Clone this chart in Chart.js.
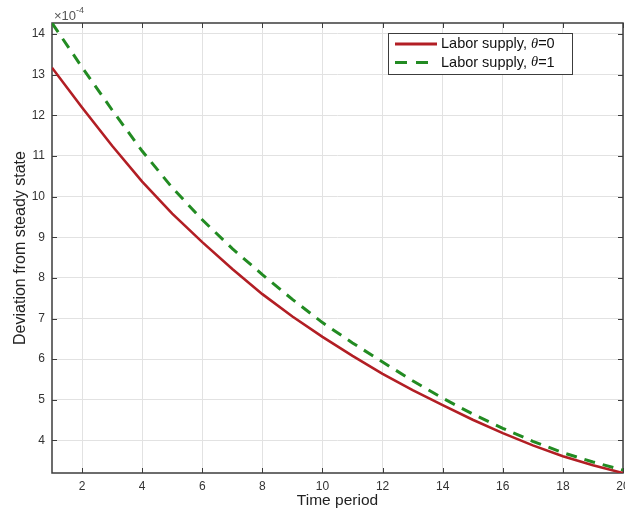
<!DOCTYPE html>
<html>
<head>
<meta charset="utf-8">
<script src="https://cdn.jsdelivr.net/npm/chart.js@4.4.0/dist/chart.umd.min.js"></script>
<style>
  html, body { margin: 0; padding: 0; background: #fff; }
</style>
</head>
<body>
<canvas id="myChart" width="625" height="512"></canvas>
<script>
// periods after the shock
var periods = [1, 2, 3, 4, 5, 6, 7, 8, 9, 10, 11, 12, 13, 14, 15, 16, 17, 18, 19, 20];

// labor supply, deviation from steady state (units of 1e-4)
var laborTheta0 = [13.17, 12.19, 11.25, 10.37, 9.58, 8.88, 8.22, 7.60, 7.05, 6.55,
                   6.08, 5.64, 5.24, 4.87, 4.51, 4.18, 3.88, 3.61, 3.39, 3.20];
var laborTheta1 = [14.27, 13.18, 12.13, 11.12, 10.22, 9.43, 8.72, 8.08, 7.47, 6.90,
                   6.40, 5.93, 5.47, 5.04, 4.65, 4.30, 3.98, 3.70, 3.47, 3.27];

var xTicks = [2, 4, 6, 8, 10, 12, 14, 16, 18, 20];
var yTicks = [4, 5, 6, 7, 8, 9, 10, 11, 12, 13, 14];

var seriesNames = ['Labor supply, ', 'Labor supply, '];
var thetaValues = ['0', '1'];
var red = 'rgb(178, 30, 36)';
var green = 'rgb(34, 139, 34)';
var dash = [11, 8];
var ink = '#333333';
var font = '"Liberation Sans", Arial, sans-serif';

function points(ys) {
  return periods.map(function (t, i) { return { x: t, y: ys[i] }; });
}

var allValues = laborTheta0.concat(laborTheta1);

// axes box with inward ticks on all four sides
var boxPlugin = {
  id: 'box',
  beforeDatasetsDraw: function (chart) {
    var a = chart.chartArea, ctx = chart.ctx;
    var xs = chart.scales.x, ys = chart.scales.y;
    ctx.save();
    ctx.strokeStyle = '#3c3c3c';
    ctx.lineWidth = 1;
    ctx.beginPath();
    xTicks.forEach(function (v) {
      var px = Math.round(xs.getPixelForValue(v)) + 0.5;
      ctx.moveTo(px, a.bottom); ctx.lineTo(px, a.bottom - 5);
      ctx.moveTo(px, a.top); ctx.lineTo(px, a.top + 5);
    });
    yTicks.forEach(function (v) {
      var py = Math.round(ys.getPixelForValue(v)) + 0.5;
      ctx.moveTo(a.left, py); ctx.lineTo(a.left + 5, py);
      ctx.moveTo(a.right, py); ctx.lineTo(a.right - 5, py);
    });
    ctx.stroke();
    ctx.lineWidth = 1.5;
    ctx.strokeRect(a.left, a.top, a.right - a.left, a.bottom - a.top);

    // exponent label
    ctx.fillStyle = '#555';
    ctx.textBaseline = 'alphabetic';
    ctx.font = '13px ' + font;
    ctx.fillText('\u00d710', a.left + 2, a.top - 3.5);
    var w = ctx.measureText('\u00d710').width;
    ctx.font = '9px ' + font;
    ctx.fillText('-4', a.left + 2 + w, a.top - 10);
    ctx.restore();
  }
};

// legend box in the upper right corner
var legendPlugin = {
  id: 'boxLegend',
  afterDraw: function (chart) {
    var ctx = chart.ctx;
    var bx = 388, by = 33, bw = 184, bh = 41;
    ctx.save();
    ctx.fillStyle = '#fff';
    ctx.fillRect(bx, by, bw, bh);
    ctx.strokeStyle = '#3c3c3c';
    ctx.lineWidth = 1;
    ctx.strokeRect(bx + 0.5, by + 0.5, bw, bh);
    var colors = [red, green];
    var dashes = [[], [12, 9]];
    [0, 1].forEach(function (i) {
      var y = by + 11 + i * 18.5;
      ctx.strokeStyle = colors[i];
      ctx.lineWidth = 3;
      ctx.setLineDash(dashes[i]);
      ctx.beginPath();
      ctx.moveTo(bx + 7, y);
      ctx.lineTo(bx + 49, y);
      ctx.stroke();
      ctx.setLineDash([]);
      ctx.fillStyle = '#111';
      ctx.textBaseline = 'middle';
      var x = bx + 53;
      ctx.font = '14.5px ' + font;
      ctx.fillText(seriesNames[i], x, y);
      x += ctx.measureText(seriesNames[i]).width;
      ctx.font = 'italic 14.5px "Liberation Serif", "Times New Roman", serif';
      ctx.fillText('\u03b8', x, y);
      x += ctx.measureText('\u03b8').width;
      ctx.font = '14.5px ' + font;
      ctx.fillText('=' + thetaValues[i], x, y);
    });
    ctx.restore();
  }
};

var ctx = document.getElementById('myChart').getContext('2d');
var chart = new Chart(ctx, {
  type: 'line',
  data: {
    datasets: [{
      label: seriesNames[0] + '\u03b8=' + thetaValues[0],
      data: points(laborTheta0),
      borderColor: red,
      borderWidth: 2.6,
      pointRadius: 0,
      tension: 0,
      fill: false
    }, {
      label: seriesNames[1] + '\u03b8=' + thetaValues[1],
      data: points(laborTheta1),
      borderColor: green,
      borderWidth: 3,
      borderDash: dash,
      pointRadius: 0,
      tension: 0,
      fill: false
    }]
  },
  options: {
    responsive: false,
    animation: false,
    devicePixelRatio: 1,
    layout: { padding: { top: 23, right: 2, left: 0, bottom: 0 } },
    plugins: {
      legend: { display: false },
      tooltip: { enabled: false }
    },
    scales: {
      x: {
        type: 'linear',
        min: periods[0],
        max: periods[periods.length - 1],
        afterBuildTicks: function (scale) {
          scale.ticks = xTicks.map(function (v) { return { value: v }; });
        },
        afterFit: function (scale) {
          scale.height = 39;
          scale.paddingLeft = 0;
          scale.paddingRight = 0;
        },
        grid: { color: '#e2e2e2', drawTicks: false },
        border: { display: false },
        ticks: {
          color: ink,
          padding: 6,
          maxRotation: 0,
          autoSkip: false,
          font: { family: font, size: 12 }
        },
        title: {
          display: true,
          text: 'Time period',
          color: '#222',
          padding: { top: 0, bottom: 2 },
          font: { family: font, size: 15.5 }
        }
      },
      y: {
        type: 'linear',
        min: Math.min.apply(null, allValues),
        max: Math.max.apply(null, allValues),
        afterBuildTicks: function (scale) {
          scale.ticks = yTicks.map(function (v) { return { value: v }; });
        },
        afterFit: function (scale) {
          scale.width = 52;
          scale.paddingTop = 0;
          scale.paddingBottom = 0;
        },
        grid: { color: '#e2e2e2', drawTicks: false },
        border: { display: false },
        ticks: {
          color: ink,
          padding: 7,
          autoSkip: false,
          font: { family: font, size: 12 }
        },
        title: {
          display: true,
          text: 'Deviation from steady state',
          color: '#222',
          padding: { top: 11, bottom: 0 },
          font: { family: font, size: 16 }
        }
      }
    }
  },
  plugins: [boxPlugin, legendPlugin]
});
</script>
</body>
</html>
